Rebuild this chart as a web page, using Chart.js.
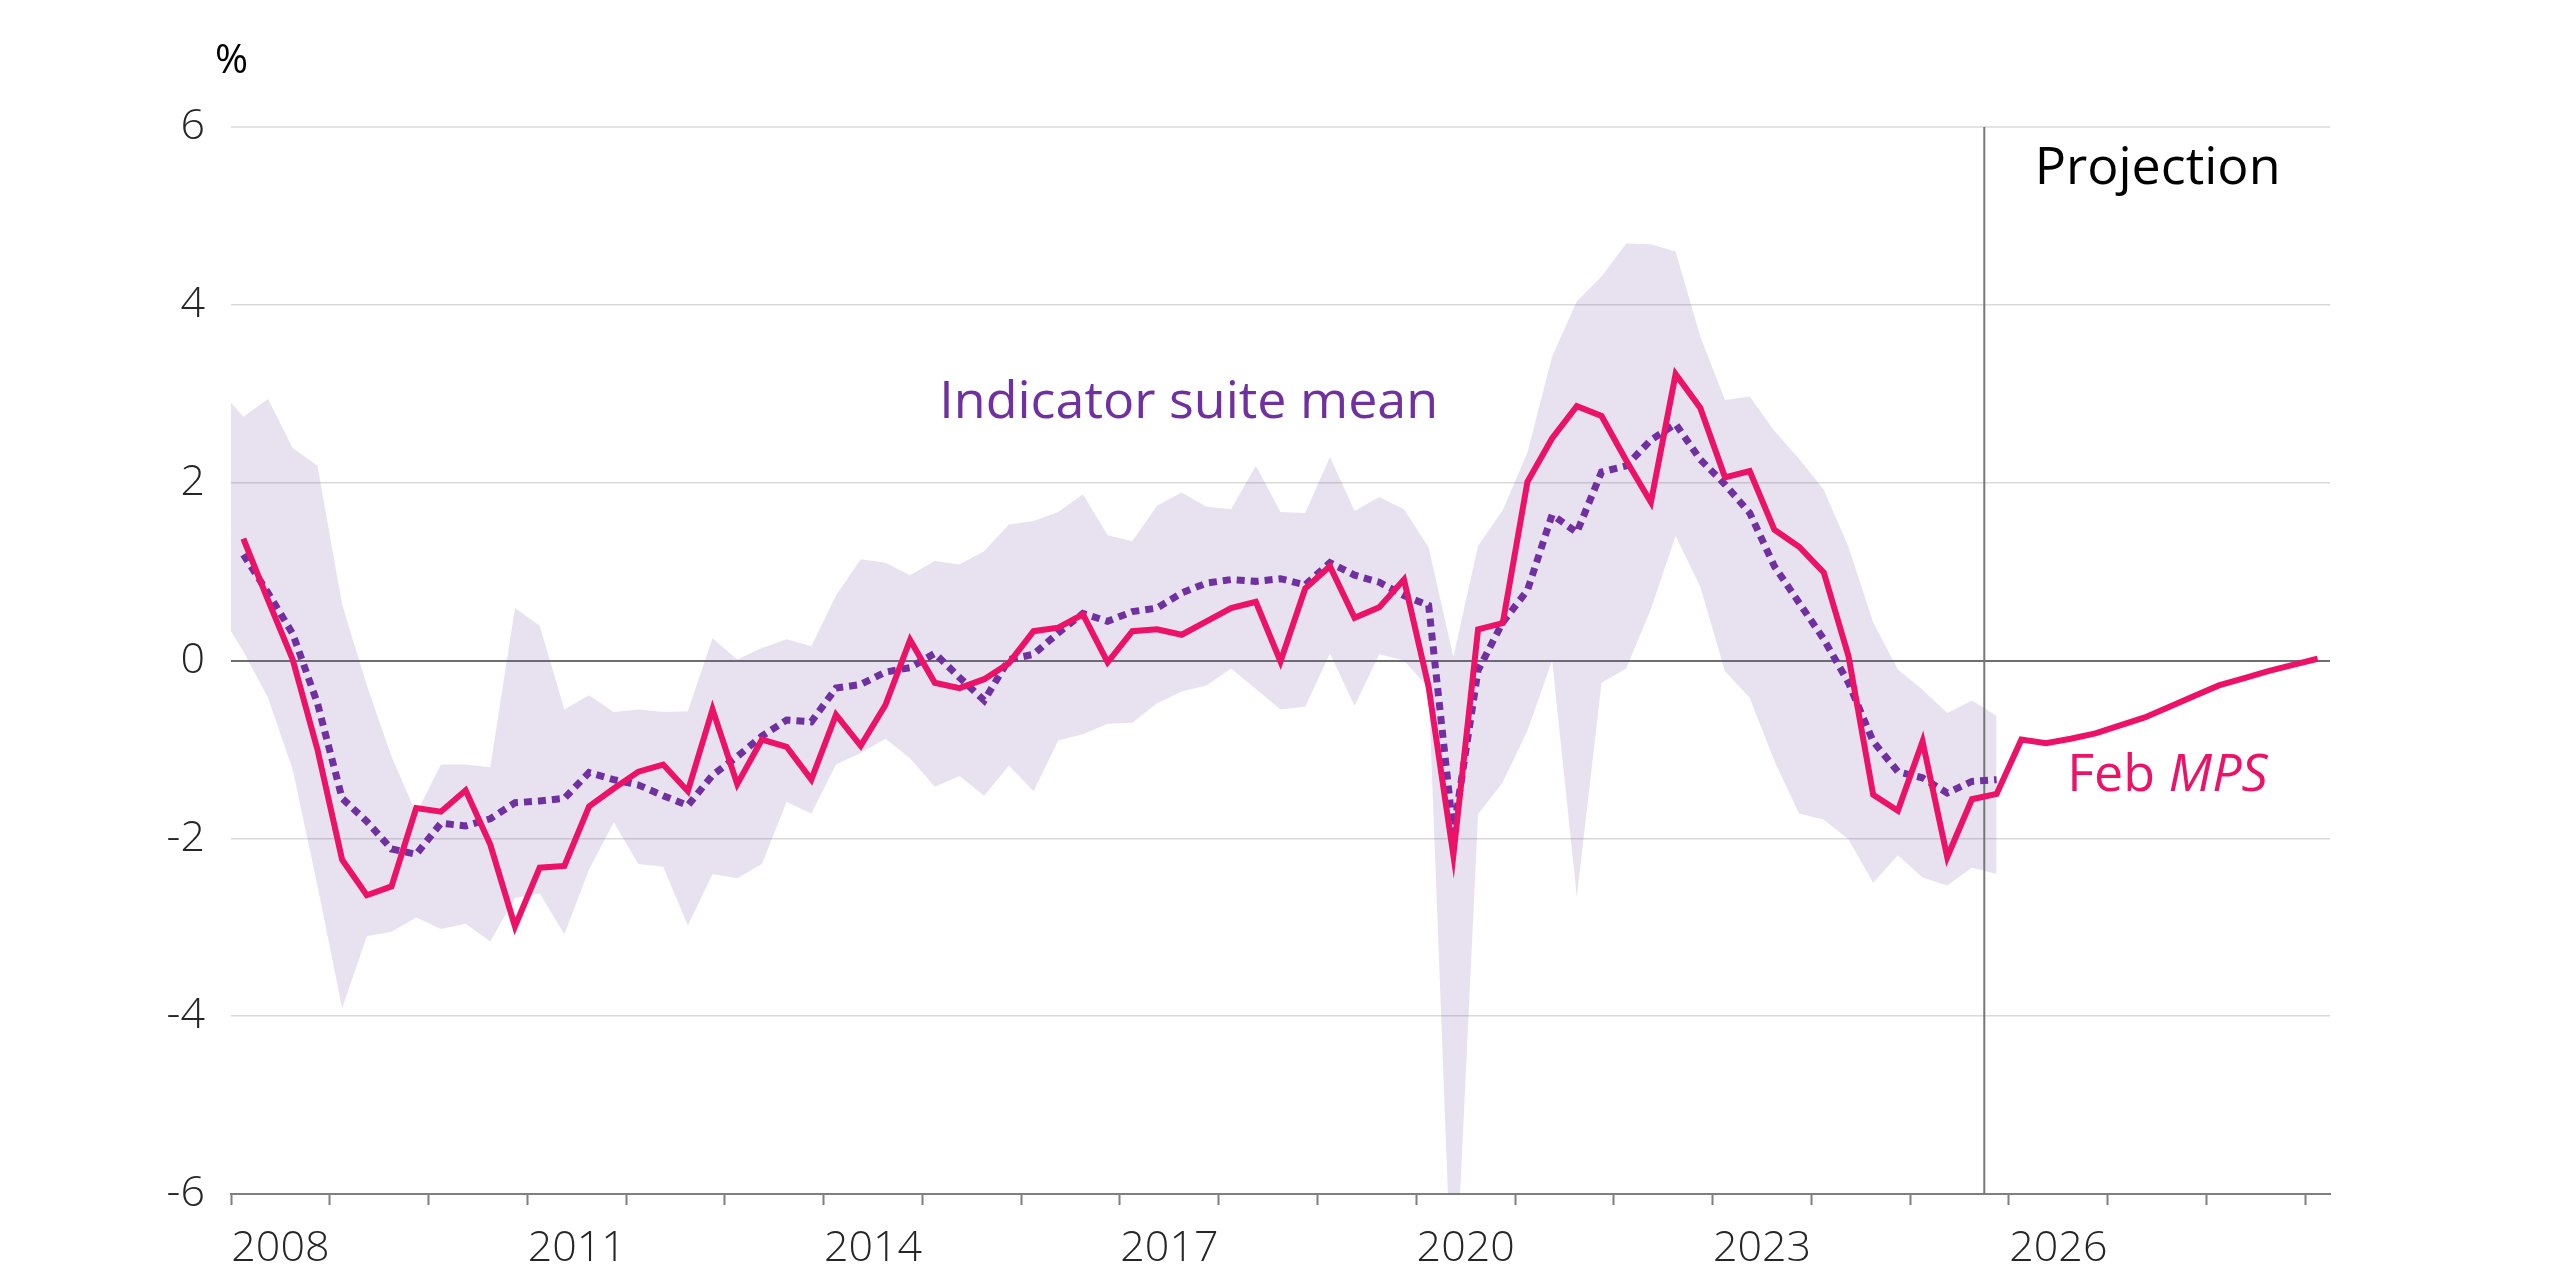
<!DOCTYPE html>
<html><head><meta charset="utf-8">
<script src="https://cdn.jsdelivr.net/npm/chart.js@4.4.1/dist/chart.umd.min.js"></script>
<style>html,body{margin:0;padding:0;background:#fff;} canvas{display:block;}</style>
</head><body>
<canvas id="c" width="2560" height="1280"></canvas>
<script>
// ---- Data (quarterly, % ) ----
const mpsStart = '2008 Q1';
const mpsValues = [
  1.37, 0.68, 0.01, -1.00, -2.24, -2.64, -2.54, -1.66, -1.70, -1.46, -2.07, -2.99,
  -2.33, -2.31, -1.64, -1.44, -1.25, -1.17, -1.47, -0.55, -1.39, -0.89, -0.97, -1.34,
  -0.61, -0.96, -0.50, 0.23, -0.25, -0.31, -0.21, -0.03, 0.33, 0.37, 0.52, -0.02,
  0.33, 0.35, 0.29, 0.44, 0.59, 0.66, -0.01, 0.81, 1.06, 0.48, 0.60, 0.91,
  -0.30, -2.19, 0.35, 0.42, 2.01, 2.50, 2.86, 2.75, 2.25, 1.78, 3.22, 2.84,
  2.06, 2.13, 1.47, 1.28, 0.99, 0.05, -1.51, -1.69, -0.91, -2.21, -1.56, -1.50,
  -0.89, -0.93, -0.88, -0.82, -0.73, -0.64, -0.52, -0.40, -0.28, -0.20, -0.12, -0.05, 0.02
];
const suiteStart = '2008 Q1';
const suiteMean = [
  1.19, 0.76, 0.30, -0.48, -1.55, -1.81, -2.12, -2.18, -1.83, -1.86, -1.78, -1.60,
  -1.58, -1.55, -1.26, -1.34, -1.40, -1.52, -1.63, -1.29, -1.08, -0.85, -0.67, -0.69,
  -0.31, -0.27, -0.13, -0.08, 0.08, -0.19, -0.45, 0.01, 0.07, 0.31, 0.53, 0.44,
  0.55, 0.59, 0.76, 0.87, 0.91, 0.89, 0.92, 0.85, 1.10, 0.96, 0.88, 0.73,
  0.62, -1.94, -0.11, 0.43, 0.79, 1.64, 1.44, 2.12, 2.19, 2.48, 2.66, 2.26,
  1.98, 1.66, 1.06, 0.65, 0.24, -0.25, -0.91, -1.25, -1.32, -1.49, -1.36, -1.34
];
const bandStart = '2007 Q4';
const bandHigh = [
  3.06,
  2.74, 2.94, 2.39, 2.19, 0.63, -0.28, -1.08, -1.72, -1.17, -1.17, -1.20, 0.59,
  0.39, -0.55, -0.39, -0.58, -0.55, -0.58, -0.57, 0.25, 0.01, 0.14, 0.24, 0.16,
  0.73, 1.14, 1.10, 0.96, 1.12, 1.08, 1.23, 1.53, 1.57, 1.67, 1.87, 1.41,
  1.34, 1.74, 1.89, 1.73, 1.70, 2.19, 1.67, 1.66, 2.29, 1.68, 1.84, 1.70,
  1.27, 0.04, 1.29, 1.69, 2.34, 3.42, 4.04, 4.32, 4.69, 4.68, 4.60, 3.64,
  2.93, 2.97, 2.58, 2.27, 1.92, 1.28, 0.43, -0.10, -0.33, -0.59, -0.45, -0.62
];
const bandLow = [
  0.56,
  0.10, -0.42, -1.23, -2.53, -3.91, -3.10, -3.05, -2.89, -3.02, -2.96, -3.16, -2.67,
  -2.62, -3.08, -2.35, -1.82, -2.29, -2.32, -2.98, -2.40, -2.45, -2.29, -1.59, -1.72,
  -1.17, -1.04, -0.88, -1.10, -1.42, -1.30, -1.52, -1.18, -1.47, -0.90, -0.83, -0.71,
  -0.70, -0.48, -0.35, -0.28, -0.09, -0.32, -0.55, -0.52, 0.08, -0.51, 0.07, 0.00,
  -0.31, -7.60, -1.73, -1.37, -0.79, 0.00, -2.66, -0.25, -0.09, 0.58, 1.40, 0.83,
  -0.12, -0.42, -1.13, -1.72, -1.79, -2.01, -2.50, -2.19, -2.44, -2.53, -2.33, -2.40
];
const yearLabels = ['2008', '2011', '2014', '2017', '2020', '2023', '2026'];
const yTicks = [-6, -4, -2, 0, 2, 4, 6];
const axisStartYear = 2008;
const axisEndYear = 2029.25;
const projectionStart = '2025 Q4';

// ---- helpers ----
function quarterCentre(label) {            // '2008 Q1' -> 2008.125
  const [yr, q] = label.split(' Q');
  return Number(yr) + (Number(q) - 0.5) / 4;
}
function quarterStart(label) { return quarterCentre(label) - 0.125; }
function toPoints(start, values) {
  const x0 = quarterCentre(start);
  return values.map((v, i) => ({ x: x0 + i * 0.25, y: v }));
}

const RED = '#EB1268';
const PURPLE = '#7030A0';
const BAND = 'rgba(120,80,160,0.17)';
const FONT = '"Open Sans", "Noto Sans", sans-serif';

const annotations = {
  id: 'annotations',
  afterDatasetDraw(chart, args) {
    if (args.index !== 3) return;
    const { ctx, chartArea, scales: { x } } = chart;
    const px = x.getPixelForValue(quarterStart(projectionStart));
    ctx.save();
    ctx.strokeStyle = '#777777';
    ctx.lineWidth = 2;
    ctx.beginPath();
    ctx.moveTo(px, chartArea.top);
    ctx.lineTo(px, chartArea.bottom);
    ctx.stroke();
    ctx.restore();
  },
  afterDraw(chart) {
    const { ctx, chartArea, scales: { x, y } } = chart;
    ctx.save();
    ctx.textBaseline = 'alphabetic';
    ctx.textAlign = 'left';
    // Indicator suite mean
    ctx.font = `400 52px ${FONT}`;
    ctx.fillStyle = PURPLE;
    ctx.fillText('Indicator suite mean', x.getPixelForValue(2015.17), y.getPixelForValue(2.73));
    // Projection
    ctx.fillStyle = '#000000';
    ctx.fillText('Projection', x.getPixelForValue(2026.26), y.getPixelForValue(5.36));
    // Feb MPS
    ctx.fillStyle = RED;
    const fx = x.getPixelForValue(2026.59), fy = y.getPixelForValue(-1.47);
    ctx.fillText('Feb ', fx, fy);
    const w = ctx.measureText('Feb ').width;
    ctx.font = `italic 400 52px ${FONT}`;
    ctx.fillText('MPS', fx + w, fy);
    // unit
    ctx.font = `400 40px ${FONT}`;
    ctx.fillStyle = '#000000';
    ctx.fillText('%', chartArea.left - 16, chartArea.top - 54);
    ctx.restore();
  }
};

new Chart(document.getElementById('c'), {
  type: 'line',
  data: {
    datasets: [
      { label: 'Feb MPS', data: toPoints(mpsStart, mpsValues), borderColor: RED, borderWidth: 6,
        pointRadius: 0, fill: false, tension: 0, borderJoinStyle: 'miter' },
      { label: 'Indicator suite mean', data: toPoints(suiteStart, suiteMean), borderColor: PURPLE,
        borderWidth: 7, borderDash: [8, 6], borderCapStyle: 'butt', pointRadius: 0, fill: false, tension: 0 },
      { label: 'Range high', data: toPoints(bandStart, bandHigh), borderWidth: 0, borderColor: 'rgba(0,0,0,0)',
        pointRadius: 0, fill: false, tension: 0 },
      { label: 'Range low', data: toPoints(bandStart, bandLow), borderWidth: 0, borderColor: 'rgba(0,0,0,0)',
        backgroundColor: BAND, pointRadius: 0, fill: 2, tension: 0 }
    ]
  },
  options: {
    responsive: false,
    devicePixelRatio: 1,
    animation: false,
    layout: { padding: { top: 127, right: 230, bottom: 0, left: 0 } },
    plugins: { legend: { display: false }, tooltip: { enabled: false } },
    scales: {
      x: {
        type: 'linear', position: 'bottom', min: axisStartYear, max: axisEndYear,
        afterBuildTicks: s => {
          const t = [];
          for (let k = axisStartYear * 2; k <= Math.floor(axisEndYear) * 2; k++) t.push({ value: k / 2 });
          s.ticks = t;
        },
        afterFit: s => { s.height = 86; },
        ticks: {
          autoSkip: false, maxRotation: 0, minRotation: 0, padding: 18, color: '#262626',
          font: { family: FONT, size: 43, weight: '300' },
          callback: v => {
            const lbl = String(Math.floor(v));
            return (v % 1 === 0.5 && yearLabels.includes(lbl)) ? lbl : '';
          }
        },
        grid: {
          drawOnChartArea: false, drawTicks: true, tickLength: 11, tickWidth: 2,
          color: 'rgba(0,0,0,0)',
          tickColor: c => (c.tick && c.tick.value % 1 === 0) ? '#7f7f7f' : 'rgba(0,0,0,0)'
        },
        border: { display: true, color: '#7f7f7f', width: 2 }
      },
      y: {
        min: -6, max: 6,
        afterBuildTicks: s => { s.ticks = yTicks.map(v => ({ value: v })); },
        afterFit: s => { s.width = 231; },
        ticks: {
          padding: 26, color: '#262626', font: { family: FONT, size: 43, weight: '300' },
          callback: v => String(v)
        },
        grid: {
          drawTicks: false,
          color: c => c.tick.value === 0 ? '#6e6e6e' : (c.tick.value === -6 ? 'rgba(0,0,0,0)' : (c.tick.value === 6 ? '#e3e3e3' : '#d9d9d9')),
          lineWidth: c => (c.tick.value === 0 || c.tick.value === 6) ? 2 : 1.5
        },
        border: { display: false }
      }
    }
  },
  plugins: [annotations]
});
</script>
</body></html>
